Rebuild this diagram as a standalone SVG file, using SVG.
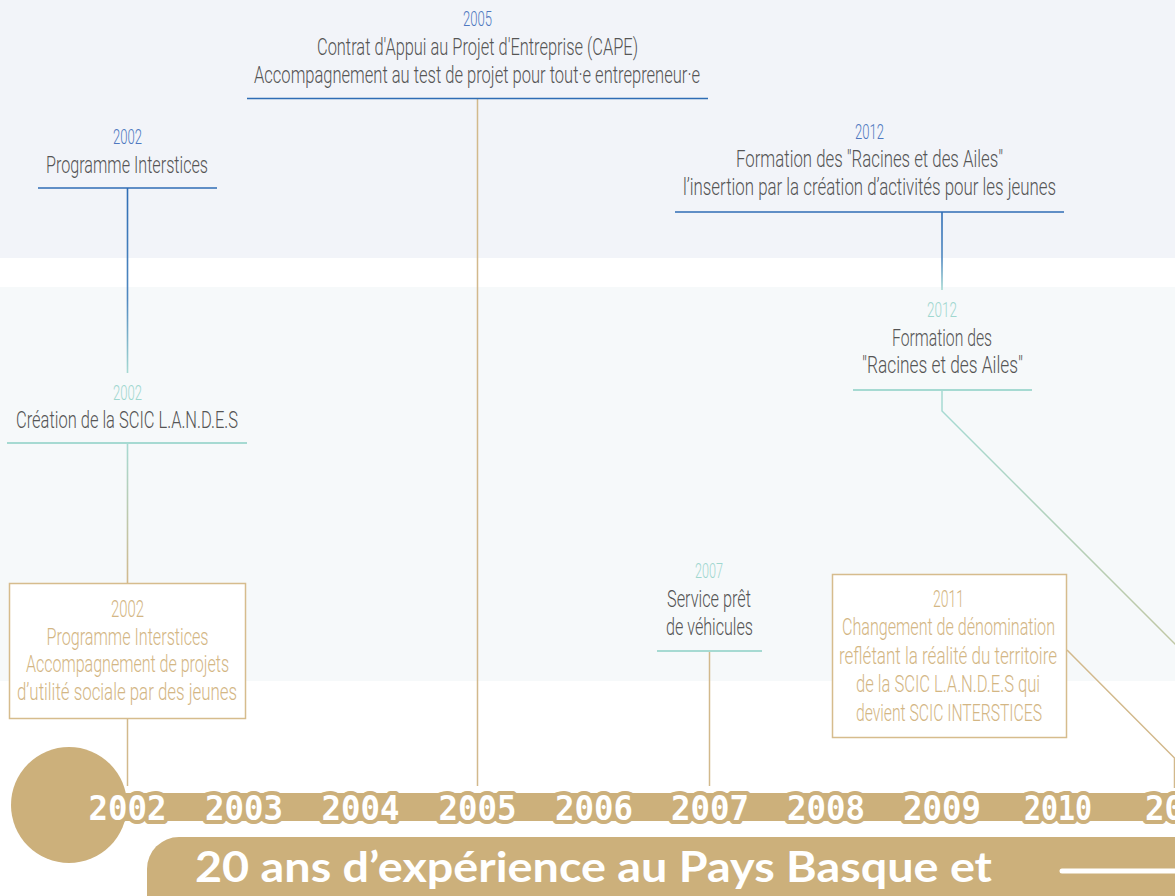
<svg xmlns="http://www.w3.org/2000/svg" width="1175" height="896" viewBox="0 0 1175 896">
<defs>
<style>
.t{font-family:Roboto,"Liberation Sans",sans-serif;font-weight:300;font-size:24px;fill:#555555;text-anchor:middle}
.yb{font-family:Roboto,"Liberation Sans",sans-serif;font-weight:300;font-size:21px;fill:#4f78c0;text-anchor:middle}
.yt{font-family:Roboto,"Liberation Sans",sans-serif;font-weight:300;font-size:21px;fill:#9fd7cf;text-anchor:middle}
.tan{font-family:Roboto,"Liberation Sans",sans-serif;font-weight:300;font-size:24px;fill:#d3b684;text-anchor:middle}
.ub{stroke:#2f6db5;stroke-width:1.6;fill:none}
.ut{stroke:#a6dad2;stroke-width:2;fill:none}
.lt{stroke:#d2b98c;stroke-width:1.5;fill:none}
.box{fill:#ffffff;stroke:#d6bc8d;stroke-width:1.5}
.yr{font-family:"DejaVu Sans Mono",monospace;font-weight:bold;font-size:33px;fill:#ffffff;stroke:#ccb07b;stroke-width:8;stroke-linejoin:round;paint-order:stroke;text-anchor:middle}
</style>
<linearGradient id="gBT" x1="0" y1="0" x2="0" y2="1">
<stop offset="0" stop-color="#2f6db5"/><stop offset="0.6" stop-color="#4f88c0"/><stop offset="1" stop-color="#a6dad2"/>
</linearGradient>
<linearGradient id="gTT" x1="0" y1="0" x2="0" y2="1">
<stop offset="0" stop-color="#a6dad2"/><stop offset="1" stop-color="#d2b98c"/>
</linearGradient>
<linearGradient id="gDiag" gradientUnits="userSpaceOnUse" x1="942" y1="411" x2="1175" y2="643">
<stop offset="0" stop-color="#a6dad2"/><stop offset="1" stop-color="#c0c7a4"/>
</linearGradient>
</defs>

<rect x="0" y="0" width="1175" height="258" fill="#f2f4f9"/>
<rect x="0" y="287" width="1175" height="394" fill="#f6f9fa"/>

<g id="connectors">
<rect x="126.7" y="188" width="1.6" height="185" fill="url(#gBT)"/>
<rect x="126.7" y="443" width="1.6" height="140" fill="url(#gTT)"/>
<line class="lt" x1="127.5" y1="718" x2="127.5" y2="786"/>
<line class="lt" x1="477.5" y1="99" x2="477.5" y2="786"/>
<line class="lt" x1="709.5" y1="652" x2="709.5" y2="786"/>
<rect x="941.2" y="212" width="1.6" height="78" fill="url(#gBT)"/>
<polyline points="942,390 942,411 1180,649" fill="none" stroke="url(#gDiag)" stroke-width="1.5"/>
<polyline class="lt" points="1067,650 1174.5,758 1174.5,788"/>
</g>

<g id="timeline">
<circle cx="69" cy="805" r="58" fill="#ccb07b"/>
<rect x="60" y="793" width="1120" height="28" fill="#ccb07b"/>
<text class="yr" x="127.5" y="820" textLength="78" lengthAdjust="spacingAndGlyphs">2002</text>
<text class="yr" x="244" y="820" textLength="78" lengthAdjust="spacingAndGlyphs">2003</text>
<text class="yr" x="360.5" y="820" textLength="78" lengthAdjust="spacingAndGlyphs">2004</text>
<text class="yr" x="477.5" y="820" textLength="78" lengthAdjust="spacingAndGlyphs">2005</text>
<text class="yr" x="594" y="820" textLength="78" lengthAdjust="spacingAndGlyphs">2006</text>
<text class="yr" x="710" y="820" textLength="78" lengthAdjust="spacingAndGlyphs">2007</text>
<text class="yr" x="826" y="820" textLength="78" lengthAdjust="spacingAndGlyphs">2008</text>
<text class="yr" x="942" y="820" textLength="78" lengthAdjust="spacingAndGlyphs">2009</text>
<text class="yr" x="1058" y="820" textLength="68" lengthAdjust="spacingAndGlyphs">2010</text>
<text class="yr" x="1184" y="820" textLength="78" lengthAdjust="spacingAndGlyphs">2011</text>
</g>

<g id="title">
<rect x="147" y="837" width="1100" height="100" rx="32" fill="#ccb07b"/>
<text x="195" y="882" font-family="Lato,'Open Sans',sans-serif" font-weight="bold" font-size="42" fill="#ffffff" textLength="797" lengthAdjust="spacingAndGlyphs">20 ans d’expérience au Pays Basque et</text>
<line x1="1062" y1="871" x2="1185" y2="871" stroke="#ffffff" stroke-width="5" stroke-linecap="round"/>
</g>

<g id="node-2005-cape">
<text class="yb" x="477.5" y="26" textLength="29" lengthAdjust="spacingAndGlyphs">2005</text>
<text class="t" x="477.5" y="55" textLength="321" lengthAdjust="spacingAndGlyphs">Contrat d'Appui au Projet d'Entreprise (CAPE)</text>
<text class="t" x="477" y="83" textLength="446" lengthAdjust="spacingAndGlyphs">Accompagnement au test de projet pour tout·e entrepreneur·e</text>
<line class="ub" x1="247" y1="98.5" x2="708" y2="98.5"/>
</g>

<g id="node-2002-interstices">
<text class="yb" x="127.5" y="144" textLength="29" lengthAdjust="spacingAndGlyphs">2002</text>
<text class="t" x="127" y="173" textLength="162" lengthAdjust="spacingAndGlyphs">Programme Interstices</text>
<line class="ub" x1="38" y1="188" x2="217" y2="188"/>
</g>

<g id="node-2002-scic">
<text class="yt" x="127.5" y="400" textLength="29" lengthAdjust="spacingAndGlyphs">2002</text>
<text class="t" x="127" y="428" textLength="222" lengthAdjust="spacingAndGlyphs">Création de la SCIC L.A.N.D.E.S</text>
<line class="ut" x1="7" y1="443" x2="247" y2="443"/>
</g>

<g id="node-2002-box">
<rect class="box" x="9.5" y="583.5" width="236" height="135"/>
<text class="tan" x="127.5" y="617" textLength="33" lengthAdjust="spacingAndGlyphs">2002</text>
<text class="tan" x="127.5" y="645" textLength="162" lengthAdjust="spacingAndGlyphs">Programme Interstices</text>
<text class="tan" x="127.5" y="672" textLength="203" lengthAdjust="spacingAndGlyphs">Accompagnement de projets</text>
<text class="tan" x="127" y="700" textLength="220" lengthAdjust="spacingAndGlyphs">d’utilité sociale par des jeunes</text>
</g>

<g id="node-2012-formation-top">
<text class="yb" x="869.5" y="139" textLength="29" lengthAdjust="spacingAndGlyphs">2012</text>
<text class="t" x="869.5" y="167" textLength="267" lengthAdjust="spacingAndGlyphs">Formation des "Racines et des Ailes"</text>
<text class="t" x="869.5" y="195" textLength="373" lengthAdjust="spacingAndGlyphs">l’insertion par la création d’activités pour les jeunes</text>
<line class="ub" x1="675" y1="212" x2="1064" y2="212"/>
</g>

<g id="node-2012-formation">
<text class="yt" x="942" y="317" textLength="30" lengthAdjust="spacingAndGlyphs">2012</text>
<text class="t" x="942" y="346" textLength="100" lengthAdjust="spacingAndGlyphs">Formation des</text>
<text class="t" x="942.5" y="373" textLength="161" lengthAdjust="spacingAndGlyphs">"Racines et des Ailes"</text>
<line class="ut" x1="853" y1="390" x2="1032" y2="390"/>
</g>

<g id="node-2007">
<text class="yt" x="709" y="578" textLength="28" lengthAdjust="spacingAndGlyphs">2007</text>
<text class="t" x="709" y="607" textLength="84" lengthAdjust="spacingAndGlyphs">Service prêt</text>
<text class="t" x="709.5" y="635" textLength="87" lengthAdjust="spacingAndGlyphs">de véhicules</text>
<line class="ut" x1="657" y1="651" x2="762" y2="651"/>
</g>

<g id="node-2011-box">
<rect class="box" x="832.5" y="574.5" width="234" height="163"/>
<text class="tan" x="948.5" y="607" textLength="31" lengthAdjust="spacingAndGlyphs">2011</text>
<text class="tan" x="948.5" y="635" textLength="213" lengthAdjust="spacingAndGlyphs">Changement de dénomination</text>
<text class="tan" x="948" y="664" textLength="218" lengthAdjust="spacingAndGlyphs">reflétant la réalité du territoire</text>
<text class="tan" x="948" y="692" textLength="184" lengthAdjust="spacingAndGlyphs">de la SCIC L.A.N.D.E.S qui</text>
<text class="tan" x="949" y="721" textLength="186" lengthAdjust="spacingAndGlyphs">devient SCIC INTERSTICES</text>
</g>
</svg>
